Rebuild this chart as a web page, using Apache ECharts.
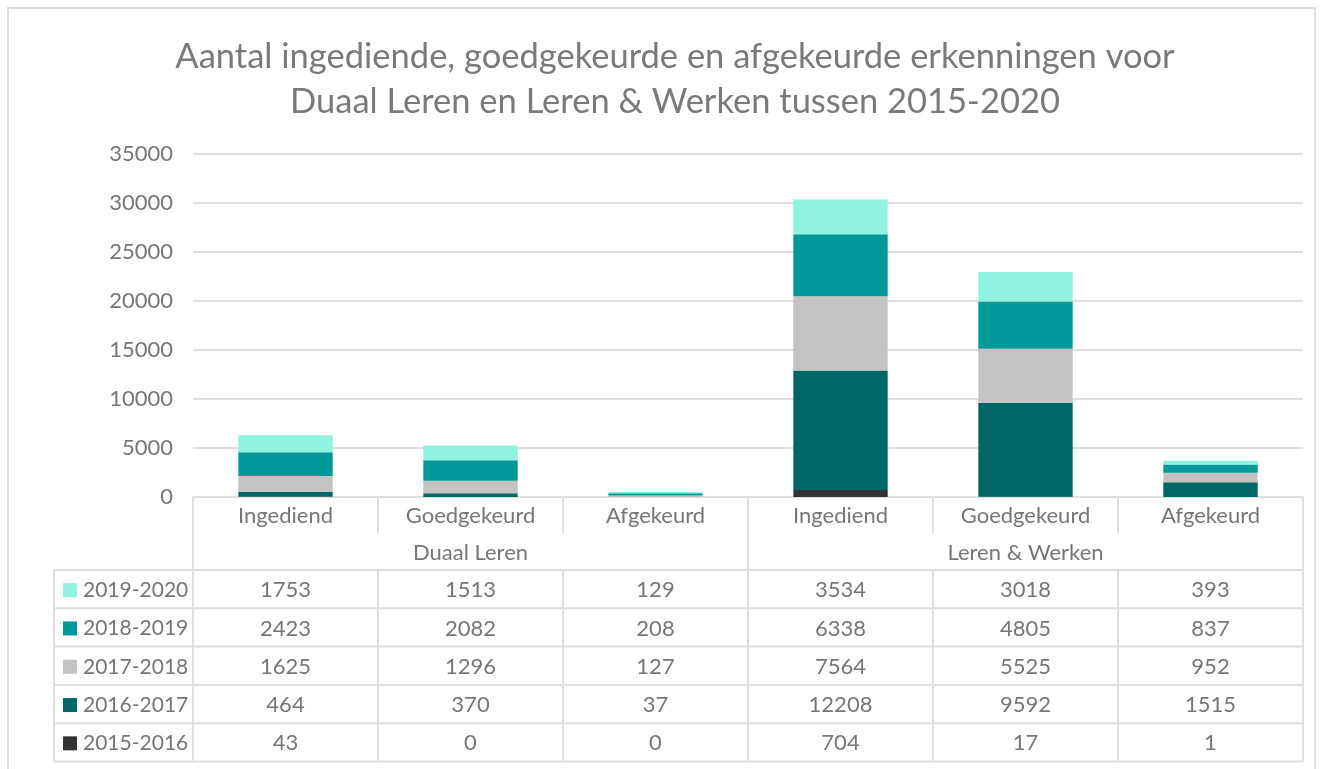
<!DOCTYPE html>
<html>
<head>
<meta charset="utf-8" />
<title>Erkenningen</title>
<script src="https://cdn.jsdelivr.net/npm/echarts@6/dist/echarts.min.js"></script>
</head>
<body style="margin:0">
<div id="main" style="width:1320px;height:769px;"></div>
<script>
// categorieen (twee groepen van drie)
const categories = ['Ingediend', 'Goedgekeurd', 'Afgekeurd', 'Ingediend', 'Goedgekeurd', 'Afgekeurd'];
const groups = ['Duaal Leren', 'Leren & Werken'];
const seasons = ['2015-2016', '2016-2017', '2017-2018', '2018-2019', '2019-2020'];

const v2015 = [43, 0, 0, 704, 17, 1];
const v2016 = [464, 370, 37, 12208, 9592, 1515];
const v2017 = [1625, 1296, 127, 7564, 5525, 952];
const v2018 = [2423, 2082, 208, 6338, 4805, 837];
const v2019 = [1753, 1513, 129, 3534, 3018, 393];
const values = [v2015, v2016, v2017, v2018, v2019];

const colors = ['#333333', '#006666', '#c3c3c3', '#009999', '#8ff3e0'];
const yTicks = [0, 5000, 10000, 15000, 20000, 25000, 30000, 35000];

const FONT = 'Lato';
const TXT = '#767676';
const LINE = '#dedede';
const FS = 22;

var myChart = echarts.init(document.getElementById('main'));

const keys = categories.map((c, i) => i + ':' + c);

let option = {
  backgroundColor: '#fff',
  animation: false,
  title: {
    text: 'Aantal ingediende, goedgekeurde en afgekeurde erkenningen voor\nDuaal Leren en Leren & Werken tussen 2015-2020',
    left: 670,
    top: 29,
    textAlign: 'center',
    textStyle: { fontFamily: FONT, fontSize: 34.5, fontWeight: 'normal', color: '#7a7a7a', lineHeight: 45 }
  },
  grid: { left: 193, right: 17, top: 154, bottom: 272 },
  xAxis: {
    type: 'category',
    data: keys,
    axisLine: { lineStyle: { color: LINE, width: 2 } },
    axisTick: { show: false },
    axisLabel: {
      formatter: v => v.split(':')[1],
      fontFamily: FONT, fontSize: FS, color: TXT, margin: 8
    }
  },
  yAxis: {
    type: 'value',
    min: yTicks[0],
    max: yTicks[yTicks.length - 1],
    interval: 5000,
    axisLine: { show: false },
    axisTick: { show: false },
    axisLabel: { formatter: v => String(v), fontFamily: FONT, fontSize: FS, color: TXT, margin: 20 },
    splitLine: { lineStyle: { color: LINE, width: 2 } }
  },
  series: seasons.map((s, i) => ({
    name: s,
    type: 'bar',
    stack: 'totaal',
    barWidth: '51%',
    itemStyle: { color: colors[i] },
    data: values[i]
  }))
};

myChart.setOption(option);

// tabel onder de grafiek
function buildTable() {
  const xs = categories.map((c, i) => myChart.convertToPixel({ xAxisIndex: 0 }, i));
  const band = xs[1] - xs[0];
  const bounds = [xs[0] - band / 2].concat(xs.map(x => x + band / 2));
  const y0 = myChart.convertToPixel({ yAxisIndex: 0 }, 0);
  const catBottom = y0 + 36;
  const rowH = 38.3;
  const dataTop = y0 + 73;
  const rows = seasons.slice().reverse();
  const tableBottom = dataTop + rows.length * rowH;
  const left = 54;
  const els = [];
  const line = (x1, y1, x2, y2) => els.push({
    type: 'line', shape: { x1, y1, x2, y2 }, style: { stroke: LINE, lineWidth: 2 }, silent: true
  });
  const text = (x, y, t, align, fs) => els.push({
    type: 'text', x, y, style: { text: t, fill: TXT, fontFamily: FONT, fontSize: fs || FS, align: align || 'center', verticalAlign: 'middle' }
  });

  // rand van het diagramgebied
  els.push({ type: 'rect', shape: { x: 8, y: 8, width: 1307, height: 800 }, style: { fill: null, stroke: LINE, lineWidth: 2 }, silent: true });

  // verticale lijnen
  bounds.forEach((bx, i) => {
    if (i === 0 || i === 3 || i === bounds.length - 1) {
      line(bx, y0, bx, tableBottom);
    } else {
      line(bx, y0, bx, catBottom);
      line(bx, dataTop, bx, tableBottom);
    }
  });
  line(left, dataTop, left, tableBottom);

  // horizontale lijnen
  for (let r = 0; r <= rows.length; r++) {
    line(left, dataTop + r * rowH, bounds[bounds.length - 1], dataTop + r * rowH);
  }

  // groepsnamen
  groups.forEach((g, gi) => {
    text((bounds[gi * 3] + bounds[gi * 3 + 3]) / 2, (catBottom + dataTop) / 2 + 1, g);
  });

  // rijen met waarden
  rows.forEach((s, r) => {
    const si = seasons.indexOf(s);
    const cy = dataTop + r * rowH + rowH / 2 + 1;
    els.push({ type: 'rect', shape: { x: 63, y: cy - 7, width: 14, height: 14 }, style: { fill: colors[si] }, silent: true });
    text(83, cy, s, 'left', 21);
    values[si].forEach((v, ci) => text(xs[ci], cy, String(v)));
  });

  myChart.setOption({ graphic: els });
}

buildTable();
</script>
</body>
</html>
